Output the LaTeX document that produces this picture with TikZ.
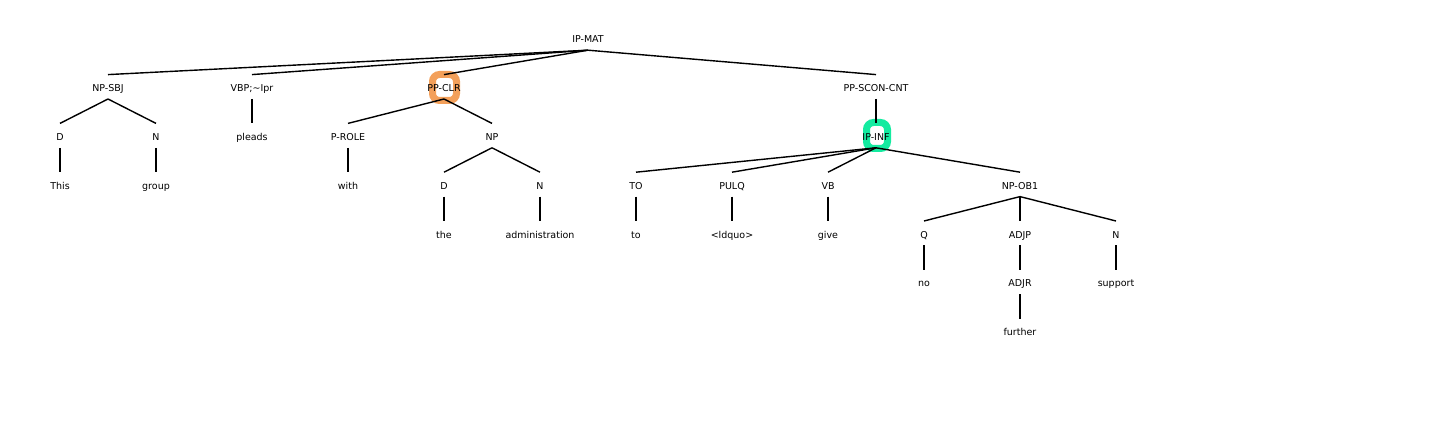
\documentclass[tikz,border=0pt]{standalone}
\usepackage{fontspec}
\setmainfont{DejaVu Sans}
\definecolor{ringorange}{RGB}{243,160,90}
\definecolor{ringgreen}{RGB}{20,235,160}
\begin{document}
\begin{tikzpicture}[x=1pt,y=-1pt,
  tn/.style={font=\fontsize{9.5}{11}\selectfont, inner xsep=0pt, inner ysep=6pt,
             text height=11pt, text depth=1pt, anchor=base},
  edge/.style={line width=1.4pt},
  ring/.style={line width=7pt, rounded corners=7pt}]
\useasboundingbox (0,0) rectangle (1440,427);
% highlights
\draw[ring, ringorange] (432.5,74.5) rectangle (456.5,100.5);
\draw[ring, ringgreen] (866.5,122.5) rectangle (887.5,148.5);
% level 0
\node[tn] (ipmat) at (588,43) {IP-MAT};
% level 1
\node[tn] (npsbj) at (108,91.8) {NP-SBJ};
\node[tn] (vbp) at (252,91.8) {VBP;\textasciitilde Ipr};
\node[tn] (ppclr) at (444,91.8) {PP-CLR};
\node[tn] (ppscon) at (876,91.8) {PP-SCON-CNT};
% level 2
\node[tn] (d1) at (60,140.6) {D};
\node[tn] (n1) at (156,140.6) {N};
\node[tn] (pleads) at (252,140.6) {pleads};
\node[tn] (prole) at (348,140.6) {P-ROLE};
\node[tn] (np) at (492,140.6) {NP};
\node[tn] (ipinf) at (876,140.6) {IP-INF};
% level 3
\node[tn] (this) at (60,189.4) {This};
\node[tn] (group) at (156,189.4) {group};
\node[tn] (with) at (348,189.4) {with};
\node[tn] (d2) at (444,189.4) {D};
\node[tn] (n2) at (540,189.4) {N};
\node[tn] (to1) at (636,189.4) {TO};
\node[tn] (pulq) at (732,189.4) {PULQ};
\node[tn] (vb) at (828,189.4) {VB};
\node[tn] (npob) at (1020,189.4) {NP-OB1};
% level 4
\node[tn] (the) at (444,238.2) {the};
\node[tn] (admin) at (540,238.2) {administration};
\node[tn] (to2) at (636,238.2) {to};
\node[tn] (ldquo) at (732,238.2) {<ldquo>};
\node[tn] (give) at (828,238.2) {give};
\node[tn] (q) at (924,238.2) {Q};
\node[tn] (adjp) at (1020,238.2) {ADJP};
\node[tn] (n3) at (1116,238.2) {N};
% level 5
\node[tn] (no) at (924,287) {no};
\node[tn] (adjr) at (1020,287) {ADJR};
\node[tn] (support) at (1116,287) {support};
% level 6
\node[tn] (further) at (1020,335.8) {further};
% edges
\foreach \p/\c in {ipmat/npsbj, ipmat/vbp, ipmat/ppclr, ipmat/ppscon,
  npsbj/d1, npsbj/n1, vbp/pleads, ppclr/prole, ppclr/np, ppscon/ipinf,
  d1/this, n1/group, prole/with, np/d2, np/n2,
  ipinf/to1, ipinf/pulq, ipinf/vb, ipinf/npob,
  d2/the, n2/admin, to1/to2, pulq/ldquo, vb/give,
  npob/q, npob/adjp, npob/n3,
  q/no, adjp/adjr, n3/support, adjr/further}
  \draw[edge] (\p.south) -- (\c.north);
\end{tikzpicture}
\end{document}
